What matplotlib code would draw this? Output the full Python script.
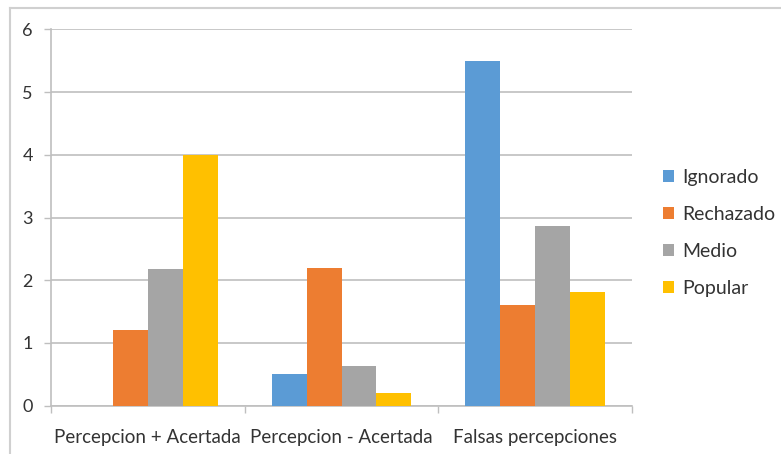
import matplotlib
matplotlib.use("Agg")
import matplotlib.pyplot as plt
from matplotlib.lines import Line2D
from matplotlib.patches import Patch
import numpy as np

categories = ["Percepcion + Acertada", "Percepcion - Acertada", "Falsas percepciones"]
series_names = ["Ignorado", "Rechazado", "Medio", "Popular"]
ignorado = [0.0, 0.5, 5.5]
rechazado = [1.2, 2.2, 1.6]
medio = [2.18, 0.64, 2.86]
popular = [4.0, 0.2, 1.82]
y_ticks = [0, 1, 2, 3, 4, 5, 6]

colors = ["#5B9BD5", "#ED7D31", "#A5A5A5", "#FFC000"]
text_color = "#333333"
grid_color = "#BFBFBF"

plt.rcParams["font.family"] = ["Lato", "DejaVu Sans"]

W, H = 781, 454
fig = plt.figure(figsize=(W / 100, H / 100), dpi=100)
ax = fig.add_axes([51 / W, (H - 405.7) / H, (632 - 51) / W, (405.7 - 29.3) / H])

x = np.arange(len(categories))
bar_w = 0.18
values = [ignorado, rechazado, medio, popular]
for i, (vals, col) in enumerate(zip(values, colors)):
    offs = (i - 1.5) * bar_w
    ax.bar(x + offs, vals, width=bar_w, color=col, zorder=3, linewidth=0)

ax.set_xlim(-0.5, len(categories) - 0.5)
ax.set_ylim(0, 6)
ax.set_yticks(y_ticks)
ax.set_yticklabels([str(t) for t in y_ticks])
ax.yaxis.grid(True, color=grid_color, linewidth=1.2, zorder=0)

# category boundaries carry the tick marks, labels sit at the centres
ax.set_xticks(np.arange(-0.5, len(categories), 1.0))
ax.set_xticklabels([])
ax.set_xticks(x, minor=True)
ax.set_xticklabels(categories, minor=True)
ax.tick_params(axis="x", which="major", length=5, width=1, color=grid_color, direction="out")
ax.tick_params(axis="x", which="minor", length=0, pad=17, labelsize=13.5, labelcolor=text_color)
ax.tick_params(axis="y", length=5, width=1, color=grid_color, pad=8, labelsize=13, labelcolor=text_color)

for side in ["top", "right"]:
    ax.spines[side].set_visible(False)
for side in ["left", "bottom"]:
    ax.spines[side].set_color(grid_color)
    ax.spines[side].set_linewidth(1.2)

handles = [Patch(facecolor=c, edgecolor="none") for c in colors]
fig.legend(handles, series_names, loc="upper left", bbox_to_anchor=(663 / W, 1 - 169 / H),
           frameon=False, fontsize=14, labelcolor=text_color,
           handlelength=0.55, handleheight=0.55, handletextpad=0.45, labelspacing=1.03,
           borderaxespad=0, borderpad=0)

# chart-area border along the top and left edges
fig.add_artist(Line2D([10 / W, 1], [1 - 8 / H, 1 - 8 / H], color="#D0D0D0", linewidth=1.5,
                      transform=fig.transFigure))
fig.add_artist(Line2D([10 / W, 10 / W], [0, 1 - 8 / H], color="#D0D0D0", linewidth=1.5,
                      transform=fig.transFigure))

fig.savefig("out.png", dpi=100)
